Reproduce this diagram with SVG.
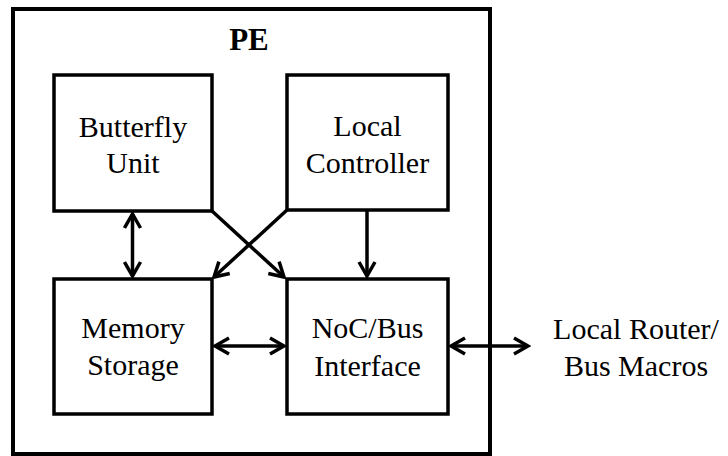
<svg xmlns="http://www.w3.org/2000/svg" width="728" height="456" viewBox="0 0 728 456">
  <defs>
    <style>
      .frame { fill: #fff; stroke: #000; stroke-width: 4; }
      .box { fill: #fff; stroke: #000; stroke-width: 3.5; }
      text { font-family: "Liberation Serif", "DejaVu Serif", "Times New Roman", serif; font-size: 30px; fill: #000; text-anchor: middle; }
      .title { font-weight: bold; font-size: 31px; }
      .link { fill: none; stroke: #000; stroke-width: 3.5; marker-end: url(#head); }
      .both { marker-start: url(#head); }
    </style>
    <marker id="head" markerUnits="userSpaceOnUse" markerWidth="20" markerHeight="20" viewBox="-16 -10 18 20" refX="0" refY="0" orient="auto-start-reverse">
      <polyline points="-14,-8 0,0 -14,8" fill="none" stroke="#000" stroke-width="3.5" stroke-linejoin="miter"/>
    </marker>
  </defs>

  <rect width="728" height="456" fill="#fff"/>

  <g id="pe">
    <rect class="frame" x="13" y="9" width="477" height="445"/>
    <text class="title" x="249" y="50">PE</text>
  </g>

  <g id="butterfly-unit">
    <rect class="box" x="54" y="75" width="158" height="136"/>
    <text x="133" y="137">Butterfly</text>
    <text x="133" y="173">Unit</text>
  </g>

  <g id="local-controller">
    <rect class="box" x="287" y="75" width="161" height="135"/>
    <text x="367.5" y="136">Local</text>
    <text x="367.5" y="173">Controller</text>
  </g>

  <g id="memory-storage">
    <rect class="box" x="54" y="279" width="158" height="135"/>
    <text x="133" y="338">Memory</text>
    <text x="133" y="375">Storage</text>
  </g>

  <g id="noc-bus-interface">
    <rect class="box" x="287" y="279" width="161" height="135"/>
    <text x="367.5" y="338">NoC/Bus</text>
    <text x="367.5" y="376">Interface</text>
  </g>

  <g id="local-router">
    <text x="636" y="339">Local Router/</text>
    <text x="636" y="376">Bus Macros</text>
  </g>

  <g id="connectors">
    <line class="link both" x1="132.5" y1="214" x2="132.5" y2="276"/>
    <line class="link" x1="367" y1="211" x2="367" y2="276"/>
    <line class="link" x1="212" y1="211" x2="284" y2="277"/>
    <line class="link" x1="287" y1="210" x2="214" y2="277"/>
    <line class="link both" x1="215" y1="346" x2="284" y2="346"/>
    <line class="link both" x1="451" y1="346" x2="528" y2="346"/>
  </g>
</svg>
